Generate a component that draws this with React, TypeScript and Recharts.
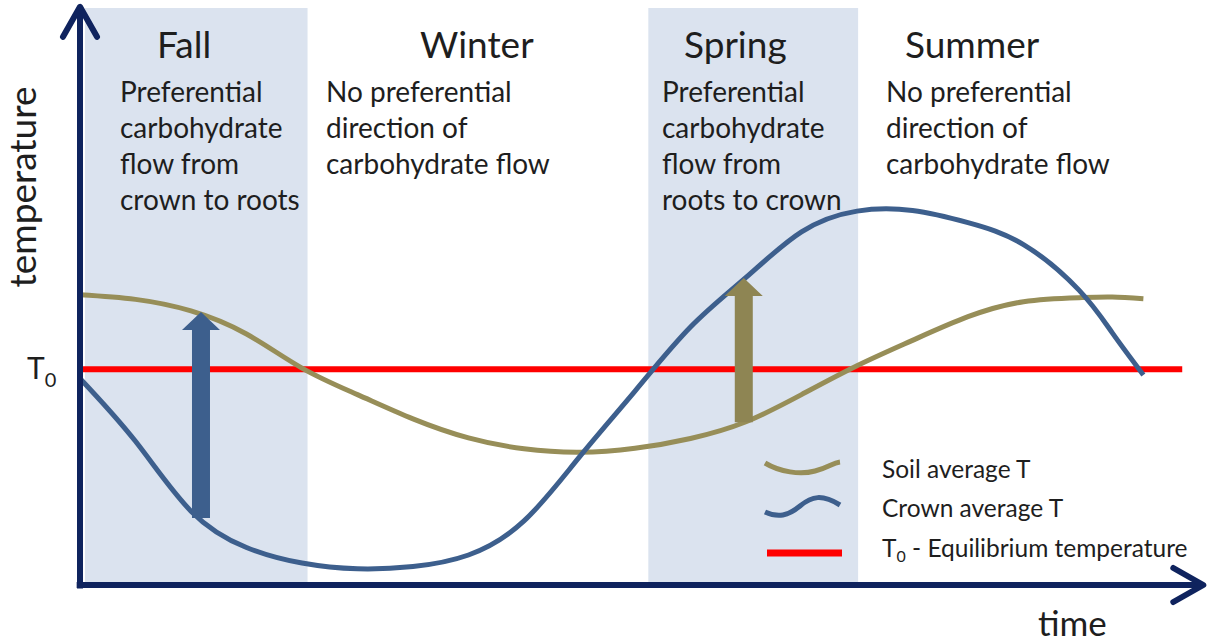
import React from 'react'
import { ComposedChart, Line, XAxis, YAxis, ReferenceArea, ReferenceLine, Legend } from 'recharts'

// time in arbitrary units (0..100), temperature in arbitrary units (0..100)
const TIME  = [0, 5, 10, 15, 20, 25, 30, 35, 40, 45, 50, 55, 60, 65, 70, 75, 80, 85, 90, 93, 95.8]
const SOIL  = [50.3, 49.5, 47.5, 43.5, 37.6, 33.0, 28.8, 25.5, 23.6, 23.0, 23.7, 25.4, 28.3, 33.0, 38.0, 42.4, 46.5, 49.1, 49.8, 49.9, 49.6]
const CROWN = [35.8, 24.9, 12.8, 6.5, 3.8, 2.8, 3.2, 5.2, 11.1, 22.2, 33.6, 44.7, 53.3, 61.2, 64.8, 64.9, 62.8, 59.0, 51.1, 43.7, 36.4]
const T0 = 37.4
const T0_SPAN = [0.2, 99.3]

const SHADED_FROM = [0.45, 51.2]
const SHADED_TO   = [20.5, 70.1]

const ARROW_TIME = [10.9, 59.8]
const ARROW_FROM = [11.6, 28.2]
const ARROW_TO   = [47.3, 53.2]

const SEASONS = ['Fall', 'Winter', 'Spring', 'Summer']
const SEASON_X = [157, 420, 684, 905]
const NOTE_X = [120, 326, 662, 886]
const NOTES = [
  ['Preferential', 'carbohydrate', 'flow from', 'crown to roots'],
  ['No preferential', 'direction of', 'carbohydrate flow'],
  ['Preferential', 'carbohydrate', 'flow from', 'roots to crown'],
  ['No preferential', 'direction of', 'carbohydrate flow'],
]

const AXIS  = '#0f235e'
const SHADE = '#dbe3ef'
const BLUE  = '#3d5f8d'
const OLIVE = '#978e58'
const OLIVE_ARROW = '#8e8553'
const RED   = '#ff0000'
const INK   = '#1e1e1e'
const FONT  = 'Lato, "Open Sans", sans-serif'

const ARROW_COLOR = [BLUE, OLIVE_ARROW]

const rows = TIME.map((t, i) => ({ t, soil: SOIL[i], crown: CROWN[i] }))

function BlockArrow({ x1, y1, x2, y2, color }: any) {
  const sw = 9, hw = 19, hl = 18
  const dir = y2 < y1 ? -1 : 1
  const yb = y2 - dir * hl
  const pts = [
    [x1 - sw, y1], [x1 - sw, yb], [x1 - hw, yb], [x2, y2],
    [x1 + hw, yb], [x1 + sw, yb], [x1 + sw, y1],
  ].map(p => p.join(',')).join(' ')
  return <polygon points={pts} fill={color} />
}

function AxisArrow({ x1, y1, x2, y2 }: any) {
  const dx = x2 - x1, dy = y2 - y1
  const len = Math.hypot(dx, dy)
  const ux = dx / len, uy = dy / len
  const back = 30, side = 17
  const ax = x2 - ux * back, ay = y2 - uy * back
  return (
    <g stroke={AXIS} strokeWidth={6} fill="none">
      <line x1={x1} y1={y1} x2={x2 - ux * 2} y2={y2 - uy * 2} />
      <polyline
        points={`${ax - uy * side},${ay + ux * side} ${x2},${y2} ${ax + uy * side},${ay - ux * side}`}
        strokeLinecap="round"
        strokeLinejoin="round"
      />
    </g>
  )
}

function T0Tick({ y }: any) {
  return (
    <text x={27} y={y + 10} fill={INK} fontFamily={FONT} fontSize={30}>
      T<tspan fontSize={20} dy={8}>0</tspan>
    </text>
  )
}

function LegendBox() {
  return (
    <svg width={454} height={120} style={{ display: 'block' }}>
      <path d="M5 15 C 20 24, 40 27, 55 23 S 72 15, 80 14" stroke={OLIVE} strokeWidth={5} fill="none" />
      <path d="M5 64 C 18 70, 28 68, 40 58 S 62 46, 80 57" stroke={BLUE} strokeWidth={5} fill="none" />
      <line x1={7} y1={105} x2={82} y2={105} stroke={RED} strokeWidth={7} />
      <g fill={INK} fontFamily={FONT} fontSize={24.5}>
        <text x={122} y={30}>Soil average T</text>
        <text x={122} y={69}>Crown average T</text>
        <text x={122} y={109}>
          T<tspan fontSize={16} dy={5}>0</tspan>
          <tspan dy={-5}> - Equilibrium temperature</tspan>
        </text>
      </g>
    </svg>
  )
}

export default function App() {
  return (
    <div style={{ position: 'absolute', left: 0, top: 0, width: 1214, height: 642, background: '#fff' }}>
      <ComposedChart
        width={1214}
        height={642}
        data={rows}
        margin={{ top: 8, right: 24, bottom: 0, left: 0 }}
      >
        <XAxis
          type="number"
          dataKey="t"
          domain={[0, 100]}
          height={57}
          tick={false}
          tickLine={false}
          axisLine={false}
        />
        <YAxis
          type="number"
          domain={[0, 100]}
          width={80}
          ticks={[T0]}
          tick={<T0Tick />}
          tickLine={false}
          axisLine={false}
        />

        {SHADED_FROM.map((x1, i) => (
          <ReferenceArea
            key={'area' + i}
            x1={x1}
            x2={SHADED_TO[i]}
            y1={0}
            y2={100}
            fill={SHADE}
            fillOpacity={1}
            stroke="none"
            ifOverflow="visible"
          />
        ))}

        <ReferenceLine
          segment={[{ x: T0_SPAN[0], y: T0 }, { x: T0_SPAN[1], y: T0 }]}
          stroke={RED}
          strokeWidth={6}
          ifOverflow="visible"
        />

        <Line type="natural" dataKey="soil" stroke={OLIVE} strokeWidth={5} dot={false} activeDot={false} isAnimationActive={false} />
        <Line type="natural" dataKey="crown" stroke={BLUE} strokeWidth={5} dot={false} activeDot={false} isAnimationActive={false} />

        {ARROW_TIME.map((t, i) => (
          <ReferenceLine
            key={'arrow' + i}
            segment={[{ x: t, y: ARROW_FROM[i] }, { x: t, y: ARROW_TO[i] }]}
            ifOverflow="visible"
            shape={(p: any) => <BlockArrow {...p} color={ARROW_COLOR[i]} />}
          />
        ))}

        <ReferenceLine
          segment={[{ x: 0, y: -0.6 }, { x: 0, y: 100.2 }]}
          ifOverflow="visible"
          shape={(p: any) => <AxisArrow {...p} />}
        />
        <ReferenceLine
          segment={[{ x: -0.3, y: 0 }, { x: 101.2, y: 0 }]}
          ifOverflow="visible"
          shape={(p: any) => <AxisArrow {...p} />}
        />

        <Legend
          layout="horizontal"
          verticalAlign="middle"
          align="center"
          wrapperStyle={{ position: 'absolute', left: 760, top: 448, width: 454 }}
          content={() => <LegendBox />}
        />
      </ComposedChart>

      <svg
        width={1214}
        height={642}
        style={{ position: 'absolute', left: 0, top: 0, pointerEvents: 'none' }}
      >
        <g fill={INK} fontFamily={FONT}>
          {SEASONS.map((s, i) => (
            <text key={s} x={SEASON_X[i]} y={58} fontSize={37}>{s}</text>
          ))}
          {NOTES.map((lines, i) =>
            lines.map((line, j) => (
              <text key={i + '-' + j} x={NOTE_X[i]} y={102 + j * 36} fontSize={28}>{line}</text>
            ))
          )}
          <text
            x={36}
            y={187}
            fontSize={37}
            textAnchor="middle"
            transform="rotate(-90 36 187)"
          >
            temperature
          </text>
          <text x={1038} y={636} fontSize={35}>time</text>
        </g>
      </svg>
    </div>
  )
}
